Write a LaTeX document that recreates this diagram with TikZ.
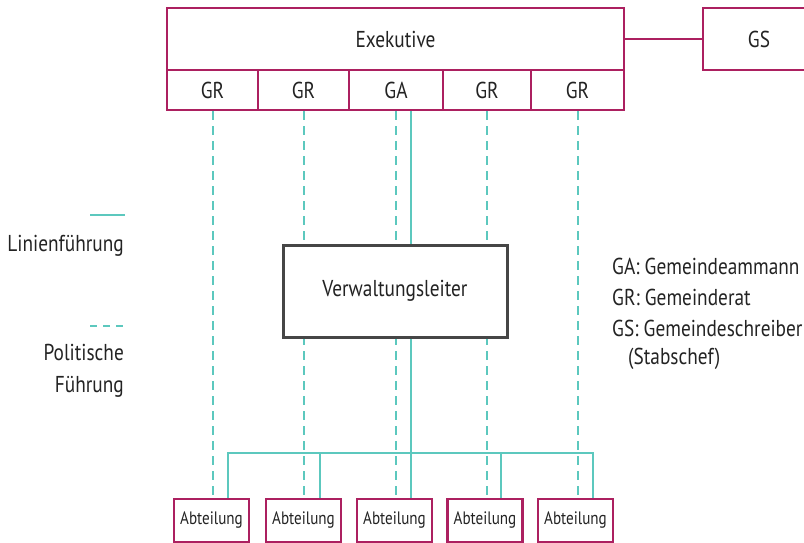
\documentclass[tikz,border=0pt]{standalone}
\usepackage{fontspec}
\setmainfont[FakeStretch=0.84]{PT Sans}
\usetikzlibrary{backgrounds}

\definecolor{rahmenrot}{RGB}{172,32,96}
\definecolor{linientuerkis}{RGB}{92,200,190}
\definecolor{schrift}{RGB}{35,35,35}
\definecolor{leiterrahmen}{RGB}{70,70,70}

\tikzset{
  organ/.style={draw=rahmenrot, line width=2.4pt, fill=white, inner sep=0pt,
    text=schrift, font=\fontsize{23}{26}\selectfont},
  abteilung/.style={draw=rahmenrot, line width=2.4pt, fill=white, inner sep=0pt,
    minimum width=75, minimum height=43, text=schrift,
    font=\fontsize{18}{21}\selectfont},
  leiter/.style={draw=leiterrahmen, line width=3pt, fill=white, inner sep=0pt,
    minimum width=224, minimum height=92, text=schrift,
    font=\fontsize{23}{26}\selectfont},
  linie/.style={draw=linientuerkis, line width=2pt},
  politik/.style={draw=linientuerkis, line width=2pt, dash pattern=on 9pt off 6pt},
  erklaerung/.style={text=schrift, inner sep=0pt, font=\fontsize{23}{26}\selectfont},
  stab/.style={draw=rahmenrot, line width=2.4pt},
}

\begin{document}
\begin{tikzpicture}[x=1pt, y=-1pt]
\useasboundingbox (0,0) rectangle (804,543);

% Exekutive with its five members
\node[organ, minimum width=457, minimum height=62] (exe) at (395.5,39) {Exekutive};
\node[organ, minimum width=91, minimum height=40] (gr1) at (212.5,90) {GR};
\node[organ, minimum width=91, minimum height=40] (gr2) at (303.5,90) {GR};
\node[organ, minimum width=94, minimum height=40] (ga)  at (396,90)   {GA};
\node[organ, minimum width=88, minimum height=40] (gr4) at (487,90)   {GR};
\node[organ, minimum width=93, minimum height=40] (gr5) at (577.5,90) {GR};

% Stab: Gemeindeschreiber
\node[organ, minimum width=112, minimum height=62] (gs) at (759,39) {GS};
\draw[stab] (exe.east) -- (gs.west);

% Verwaltungsleiter
\node[leiter] (vl) at (395,291) {Verwaltungsleiter};

% Abteilungen
\node[abteilung] (ab1) at (211.5,520.5) {Abteilung};
\node[abteilung] (ab2) at (303.5,520.5) {Abteilung};
\node[abteilung] (ab3) at (394.5,520.5) {Abteilung};
\node[abteilung] (ab4) at (485,520.5)   {Abteilung};
\node[abteilung] (ab5) at (575.5,520.5) {Abteilung};

\coordinate (bus) at (0,453);

\begin{scope}[on background layer]
  % politische Fuehrung
  \draw[politik] (gr1.south) -- (gr1.south |- ab1.north);
  \draw[politik] (gr2.south) -- (gr2.south |- ab2.north);
  \draw[politik] (ga.south)  -- (ga.south  |- ab3.north);
  \draw[politik] (gr4.south) -- (gr4.south |- ab4.north);
  \draw[politik] (gr5.south) -- (gr5.south |- ab5.north);
  % Linienfuehrung
  \draw[linie] ([xshift=15pt]ga.south) -- ([xshift=15pt]ga.south |- ab3.north);
  \draw[linie] ([xshift=16pt]ab1.north) -- ([xshift=16pt]ab1.north |- bus)
               -- ([xshift=17pt]ab5.north |- bus) -- ([xshift=17pt]ab5.north);
  \draw[linie] ([xshift=16pt]ab2.north) -- ([xshift=16pt]ab2.north |- bus);
  \draw[linie] ([xshift=16pt]ab4.north) -- ([xshift=16pt]ab4.north |- bus);
\end{scope}

% Legende
\node[erklaerung, anchor=east] (leg1) at (124,246) {Linienführung};
\node[erklaerung, anchor=east, align=right] (leg2) at (124,371)
  {Politische\\[6pt]Führung};
\coordinate (l1a) at (90,215);  \coordinate (l1b) at (125,215);
\coordinate (l2a) at (90,326);  \coordinate (l2b) at (125,326);
\draw[linie] (l1a) -- (l1b);
\draw[draw=linientuerkis, line width=1.8pt, dash pattern=on 7pt off 6pt] (l2a) -- (l2b);

% Abkuerzungen
\node[erklaerung, anchor=west] (ka) at (612,266) {GA: Gemeindeammann};
\node[erklaerung, anchor=west] (kr) at (612,297) {GR: Gemeinderat};
\node[erklaerung, anchor=west] (ks) at (612,328) {GS: Gemeindeschreiber};
\node[erklaerung, anchor=west] (kk) at (628,359) {(Stabschef)};
\end{tikzpicture}
\end{document}
